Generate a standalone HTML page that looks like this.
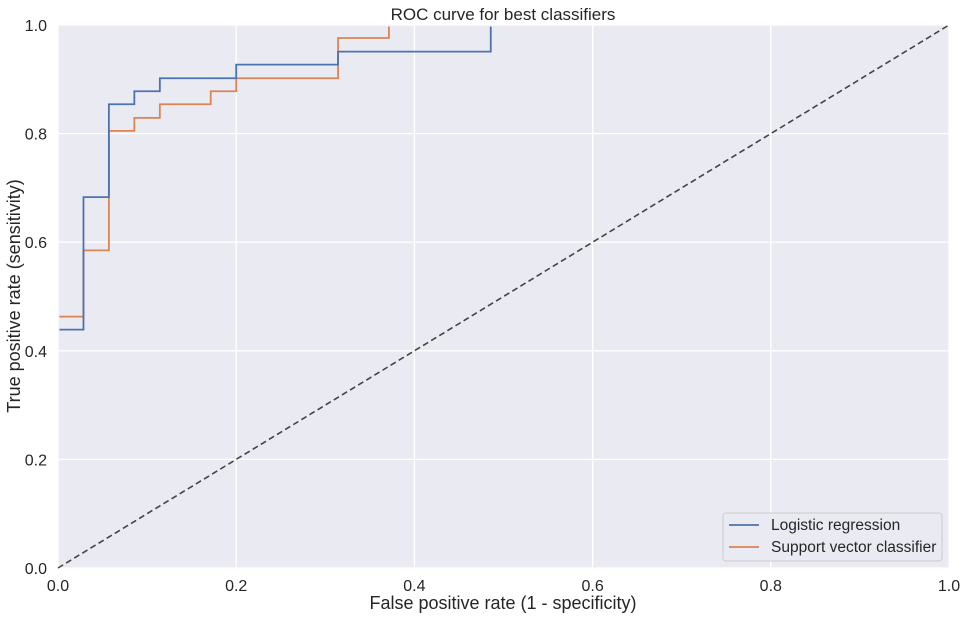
<!DOCTYPE html>
<html><head><meta charset="utf-8"><style>
body{margin:0;background:#fff;}
svg{display:block;font-family:"Liberation Sans","DejaVu Sans",sans-serif;}
</style></head><body>
<svg id="chart" width="967" height="618" viewBox="0 0 967 618" xmlns="http://www.w3.org/2000/svg">
<defs><clipPath id="clip"><rect x="59.5" y="26.5" width="889" height="541"/></clipPath></defs>
<rect x="58" y="25" width="891" height="543" fill="#eaeaf2"/>
<g id="grid"></g>
<g id="ticks"></g>
<line x1="58" y1="568" x2="949" y2="25" stroke="#444" stroke-width="1.6" stroke-dasharray="6,3.5"/>
<g id="series" clip-path="url(#clip)"></g>
<text x="503" y="20" font-size="17" text-anchor="middle" fill="#262626">ROC curve for best classifiers</text>
<text x="503" y="609" font-size="18" text-anchor="middle" fill="#262626">False positive rate (1 - specificity)</text>
<text transform="translate(20,296) rotate(-90)" font-size="18" text-anchor="middle" fill="#262626">True positive rate (sensitivity)</text>
<g>
<rect x="723" y="513" width="219" height="48" rx="3" fill="#eaeaf2" stroke="#cccccc" stroke-width="1"/>
<line x1="729" y1="525" x2="759" y2="525" stroke="#4c72b0" stroke-width="1.8"/>
<text x="771" y="530" font-size="15.5" fill="#262626">Logistic regression</text>
<line x1="729" y1="547" x2="759" y2="547" stroke="#dd8452" stroke-width="1.8"/>
<text x="771" y="552" font-size="15.5" fill="#262626">Support vector classifier</text>
</g>
</svg>
<script>
const xTicks=[0,0.2,0.4,0.6,0.8,1.0];
const yTicks=[0,0.2,0.4,0.6,0.8,1.0];
const lrFpr=[0,0,0.0286,0.0286,0.0571,0.0571,0.0857,0.0857,0.1143,0.1143,0.2,0.2,0.3143,0.3143,0.4857,0.4857,1];
const lrTpr=[0,0.439,0.439,0.683,0.683,0.854,0.854,0.878,0.878,0.902,0.902,0.927,0.927,0.951,0.951,1,1];
const svcFpr=[0,0,0.0286,0.0286,0.0571,0.0571,0.0857,0.0857,0.1143,0.1143,0.1714,0.1714,0.2,0.2,0.3143,0.3143,0.3714,0.3714,1];
const svcTpr=[0,0.463,0.463,0.585,0.585,0.805,0.805,0.829,0.829,0.854,0.854,0.878,0.878,0.902,0.902,0.976,0.976,1,1];
const NS='http://www.w3.org/2000/svg';
const X=v=>58+v*891, Y=v=>568-v*543;
const grid=document.getElementById('grid'), ticks=document.getElementById('ticks'), series=document.getElementById('series');
function mk(t,a){const e=document.createElementNS(NS,t);for(const k in a)e.setAttribute(k,a[k]);return e;}
xTicks.forEach(v=>{
 const l=mk('line',{x1:X(v),x2:X(v),y1:25,y2:568,stroke:'#fff','stroke-width':1.3});
 
 
 grid.appendChild(l);
 const t=mk('text',{x:X(v),y:591,'font-size':16,'text-anchor':'middle',fill:'#262626'});
 
 
 t.textContent=v.toFixed(1);ticks.appendChild(t);
});
yTicks.forEach(v=>{
 const l=mk('line',{x1:58,x2:949,y1:Y(v),y2:Y(v),stroke:'#fff','stroke-width':1.3});
 
 
 grid.appendChild(l);
 const t=mk('text',{x:47,y:Y(v)+6,'font-size':16,'text-anchor':'end',fill:'#262626'});
 
 
 t.textContent=v.toFixed(1);ticks.appendChild(t);
});
function draw(fx,ty,color,name){
 const p=mk('polyline',{points:fx.map((f,i)=>X(f)+','+Y(ty[i])).join(' '),fill:'none',stroke:color,'stroke-width':1.8});
 
 
 series.appendChild(p);
}
draw(svcFpr,svcTpr,'#dd8452','svc-roc-line');
draw(lrFpr,lrTpr,'#4c72b0','logistic-roc-line');
</script>
</body></html>
